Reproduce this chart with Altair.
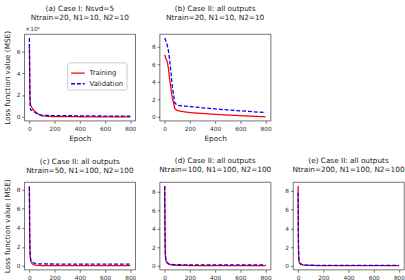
import altair as alt
import pandas as pd

FONT = "DejaVu Sans"

# Training epochs at which the loss histories are sampled
epochs = [0, 2, 4, 6, 8, 10, 15, 20, 30, 40, 50, 60, 80, 100, 150, 200, 300, 400, 500, 600, 700, 800]

# (a) Case I, loss in raw MSE units
train_a = [66000, 40000, 22000, 15000, 12000, 10500, 9500, 8500, 7000, 5500, 4500, 3500,
           2000, 1000, 500, 300, 200, 150, 100, 100, 100, 100]
val_a = [72000, 45000, 20000, 10000, 7500, 6500, 6000, 6000, 5500, 4500, 3800, 3000,
         2000, 1500, 1300, 1200, 1100, 1000, 900, 800, 700, 600]

# (b) Case II, Ntrain=20
train_b = [7.1, 7.0, 6.9, 6.8, 6.7, 6.6, 6.5, 6.3, 5.5, 4.2, 3.2, 2.2,
           0.95, 0.72, 0.6, 0.5, 0.4, 0.3, 0.22, 0.15, 0.08, 0.02]
val_b = [9.0, 8.95, 8.9, 8.8, 8.7, 8.6, 8.4, 8.2, 7.5, 6.4, 5.0, 3.5,
         1.6, 1.35, 1.25, 1.18, 1.05, 0.92, 0.8, 0.7, 0.6, 0.5]

# (c) Case II, Ntrain=50
train_c = [8.4, 4.0, 2.0, 1.2, 0.8, 0.6, 0.35, 0.25, 0.15, 0.1, 0.07, 0.05,
           0.04, 0.03, 0.02, 0.02, 0.01, 0.01, 0.01, 0.01, 0.01, 0.01]
val_c = [8.3, 4.2, 2.0, 1.2, 0.9, 0.7, 0.5, 0.45, 0.35, 0.28, 0.25, 0.22,
         0.2, 0.2, 0.19, 0.19, 0.18, 0.18, 0.18, 0.18, 0.18, 0.18]

# (d) Case II, Ntrain=100
train_d = [8.6, 4.0, 1.8, 1.0, 0.7, 0.55, 0.4, 0.3, 0.2, 0.15, 0.12, 0.1,
           0.08, 0.06, 0.05, 0.04, 0.03, 0.03, 0.02, 0.02, 0.02, 0.02]
val_d = [8.6, 4.2, 2.0, 1.1, 0.8, 0.6, 0.45, 0.35, 0.25, 0.2, 0.17, 0.15,
         0.14, 0.13, 0.12, 0.12, 0.11, 0.11, 0.1, 0.1, 0.1, 0.1]

# (e) Case II, Ntrain=200
train_e = [8.5, 3.5, 1.5, 0.8, 0.5, 0.35, 0.25, 0.2, 0.15, 0.12, 0.1, 0.08,
           0.07, 0.06, 0.05, 0.04, 0.04, 0.03, 0.03, 0.03, 0.03, 0.03]
val_e = [7.8, 3.2, 1.4, 0.8, 0.5, 0.38, 0.28, 0.22, 0.17, 0.14, 0.12, 0.1,
         0.09, 0.08, 0.07, 0.07, 0.06, 0.06, 0.06, 0.06, 0.06, 0.06]

titles = {
    "a": ["(a) Case I: Nsvd=5", "Ntrain=20, N1=10, N2=10"],
    "b": ["(b) Case II: all outputs", "Ntrain=20, N1=10, N2=10"],
    "c": ["(c) Case II: all outputs", "Ntrain=50, N1=100, N2=100"],
    "d": ["(d) Case II: all outputs", "Ntrain=100, N1=100, N2=100"],
    "e": ["(e) Case II: all outputs", "Ntrain=200, N1=100, N2=100"],
}

series_names = ["Training", "Validation"]
series_colors = ["#ff0000", "#0000ff"]
series_dash = [[1, 0], [4, 2]]

PW = 114  # plot width


def frame(train, val):
    rows = []
    for name, vals in zip(series_names, [train, val]):
        for ep, v in zip(epochs, vals):
            rows.append({"epoch": ep, "loss": v, "series": name})
    return pd.DataFrame(rows)


def panel(key, train, val, height, y_ticks, title_offset, y_title=None, legend=False,
          scale_1e4=False):
    allv = train + val
    lo, hi = min(allv), max(allv)
    m = 0.05 * (hi - lo)
    axis_kw = dict(values=y_ticks, titlePadding=3, minExtent=10, maxExtent=10,
                   title=y_title if y_title else None)
    if scale_1e4:
        axis_kw["labelExpr"] = "datum.value / 10000"
    yaxis = alt.Axis(**axis_kw)
    if legend:
        leg = alt.Legend(orient="none", legendX=44, legendY=29, title=None,
                         symbolType="stroke", symbolSize=196, symbolStrokeWidth=1.3,
                         labelFontSize=7, labelFont=FONT, labelColor="#222",
                         labelOffset=4, padding=3, rowPadding=-4,
                         strokeColor="#cccccc", fillColor="white", cornerRadius=2)
    else:
        leg = None
    line = alt.Chart(frame(train, val)).mark_line(strokeWidth=1.3).encode(
        x=alt.X("epoch:Q", scale=alt.Scale(domain=[-40, 840], nice=False, zero=False),
                axis=alt.Axis(values=[0, 200, 400, 600, 800], title="Epoch")),
        y=alt.Y("loss:Q", scale=alt.Scale(domain=[lo - m, hi + m], nice=False, zero=False),
                axis=yaxis),
        color=alt.Color("series:N", scale=alt.Scale(domain=series_names, range=series_colors),
                        legend=leg),
        strokeDash=alt.StrokeDash("series:N",
                                  scale=alt.Scale(domain=series_names, range=series_dash),
                                  legend=leg),
    )
    layers = [line]
    if scale_1e4:
        mult = alt.Chart(pd.DataFrame({"t": ["×10⁴"]})).mark_text(
            align="left", baseline="bottom", fontSize=6, font=FONT, color="#333"
        ).encode(text="t:N", x=alt.value(1), y=alt.value(-2))
        layers.append(mult)
    return alt.layer(*layers).properties(
        width=PW, height=height,
        title=alt.TitleParams(text=titles[key], fontSize=7.5, font=FONT, fontWeight="normal",
                              lineHeight=9, offset=title_offset, frame="group",
                              anchor="middle", color="#222"),
    )


ticks8 = [0, 2, 4, 6, 8]
ytitle = "Loss function value (MSE)"

# title offsets are measured from each panel's content top (axis title / ×10⁴ note stick up)
pa = panel("a", train_a, val_a, 89, [0, 20000, 40000, 60000], 5, ytitle, legend=True,
           scale_1e4=True)
pb = panel("b", train_b, val_b, 89, ticks8, 13)
pc = panel("c", train_c, val_c, 90, ticks8, 5, ytitle)
pd_ = panel("d", train_d, val_d, 90, ticks8, 9)
pe = panel("e", train_e, val_e, 90, ticks8, 9)

top = alt.hconcat(pa, pb, spacing=13)
bottom = alt.hconcat(alt.hconcat(pc, pd_, spacing=13), pe, spacing=11)

chart = alt.vconcat(top, bottom, spacing=14).resolve_scale(
    color="independent", strokeDash="independent"
).properties(
    padding={"left": 3, "top": 1, "right": 0, "bottom": 0}
).configure_view(
    stroke="#333", strokeWidth=0.7
).configure_axis(
    domain=False, grid=False, tickSize=2.6, tickColor="#333", tickWidth=0.7,
    labelFontSize=6, labelFont=FONT, labelColor="#333", labelPadding=2,
    titleFontSize=7.5, titleFont=FONT, titleColor="#222", titleFontWeight="normal",
)

chart.save("out.html", embed_options={"renderer": "svg", "actions": False})
